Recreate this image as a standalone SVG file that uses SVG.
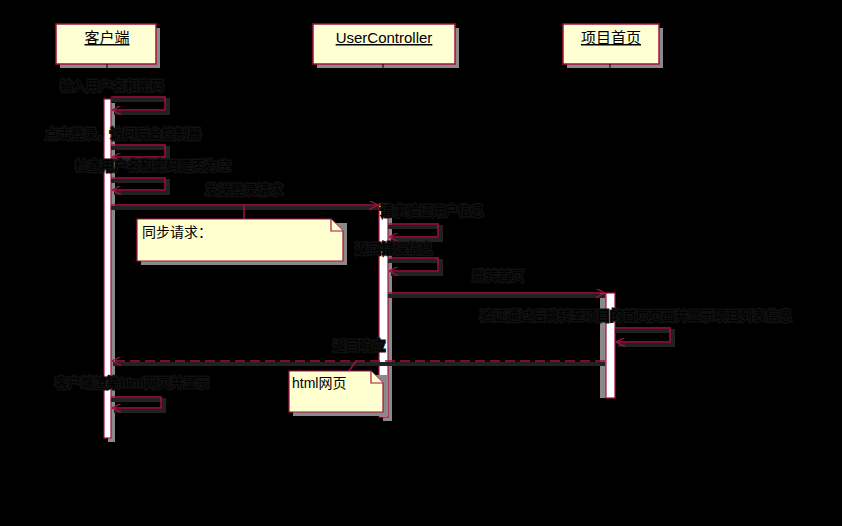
<svg xmlns="http://www.w3.org/2000/svg" width="842" height="526" viewBox="0 0 842 526">
<defs>
<marker id="arr" viewBox="0 0 10 10" refX="10" refY="5" markerWidth="9" markerHeight="9" markerUnits="userSpaceOnUse" orient="auto">
<path d="M0,0 L10,5 L0,10" fill="none" stroke="#a5123f" stroke-width="1.4"/>
</marker>
<style>
.hdr{fill:#ffffd4;stroke:#a5123f;stroke-width:1.5}
.shd{fill:#8a8a8a}
.shl{fill:none;stroke:#222;stroke-width:4}
.bar{fill:#ffffff;stroke:#a5123f;stroke-width:1.2}
.msg{fill:none;stroke:#a5123f;stroke-width:1.5}
.ret{fill:none;stroke:#a5123f;stroke-width:1.5;stroke-dasharray:10 5}
.life{fill:none;stroke:#000;stroke-width:1;stroke-dasharray:6 4}
.note{fill:#ffffd0;stroke:#a5123f;stroke-width:1.2}
.ht{font-family:"Liberation Sans","Noto Sans CJK SC",sans-serif;font-size:15px;fill:#000;text-anchor:middle;text-decoration:underline}
.nt{font-family:"Liberation Sans","Noto Sans CJK SC",sans-serif;font-size:14px;fill:#000}
.lb{font-family:"Liberation Sans","Noto Sans CJK SC",sans-serif;font-size:13px;fill:#000;stroke:#101010;stroke-width:3;paint-order:stroke}
</style>
</defs>
<rect width="842" height="526" fill="#000"/>

<g id="client">
<rect class="shd" x="60" y="28" width="100" height="40"/>
<rect class="hdr" x="56" y="24" width="100" height="40"/>
<text class="ht" x="107" y="43">客户端</text>
<line class="life" x1="107" y1="64" x2="107" y2="99"/>
<rect class="shd" x="108" y="103" width="7" height="339"/>
<rect class="bar" x="104" y="99" width="7" height="339"/>
</g>

<g id="usercontroller">
<rect class="shd" x="317" y="28" width="142" height="40"/>
<rect class="hdr" x="313" y="24" width="142" height="40"/>
<text class="ht" x="384" y="43">UserController</text>
<line class="life" x1="383" y1="64" x2="383" y2="204"/>
<rect class="shd" x="383" y="208" width="9" height="213"/>
<rect class="bar" x="379" y="204" width="9" height="213"/>
</g>

<g id="homepage">
<rect class="shd" x="567" y="28" width="96" height="40"/>
<rect class="hdr" x="563" y="24" width="96" height="40"/>
<text class="ht" x="611" y="43">项目首页</text>
<line class="life" x1="610" y1="64" x2="610" y2="293"/>
<rect class="shd" x="600" y="293" width="8" height="105"/>
<rect class="bar" x="606" y="293" width="9" height="105"/>
</g>

<g id="connectors">
<path class="shl" d="M111,100 H168 V113 H114"/>
<path class="msg" d="M111,97 H165 V110 H112" marker-end="url(#arr)"/>
<path class="shl" d="M111,148 H168 V160 H114"/>
<path class="msg" d="M111,145 H165 V157 H112" marker-end="url(#arr)"/>
<path class="shl" d="M111,181 H168 V193 H114"/>
<path class="msg" d="M111,178 H165 V190 H112" marker-end="url(#arr)"/>
<line class="shl" x1="111" y1="208" x2="378" y2="208"/>
<line class="msg" x1="111" y1="205" x2="378" y2="205" marker-end="url(#arr)"/>
<path class="shl" d="M388,227 H441 V240 H391"/>
<path class="msg" d="M388,224 H438 V237 H389" marker-end="url(#arr)"/>
<path class="shl" d="M388,261 H441 V274 H391"/>
<path class="msg" d="M388,258 H438 V271 H389" marker-end="url(#arr)"/>
<line class="shl" x1="388" y1="296" x2="605" y2="296"/>
<line class="msg" x1="388" y1="293" x2="605" y2="293" marker-end="url(#arr)"/>
<path class="shl" d="M615,331 H673 V345 H618"/>
<path class="msg" d="M615,328 H670 V342 H616" marker-end="url(#arr)"/>
<line class="shl" x1="605" y1="364" x2="113" y2="364"/>
<line class="ret" x1="605" y1="361" x2="112" y2="361" marker-end="url(#arr)"/>
<path class="shl" d="M111,400 H164 V411 H114"/>
<path class="msg" d="M111,397 H161 V408 H112" marker-end="url(#arr)"/>
<line class="msg" x1="244" y1="205" x2="244" y2="219"/>
<line class="msg" x1="349" y1="371" x2="356" y2="361"/>
</g>

<g id="labels">
<text class="lb" x="60" y="90">输入用户名和密码</text>
<text class="lb" x="45" y="138">点击登录，访问后台控制器</text>
<text class="lb" x="75" y="170">检查用户名和密码是否为空</text>
<text class="lb" x="205" y="194">发送登录请求</text>
<text class="lb" x="380" y="215">请求验证用户信息</text>
<text class="lb" x="355" y="253">返回错误信息</text>
<text class="lb" x="472" y="280">跳转首页</text>
<text class="lb" x="480" y="320">验证通过后跳转至项目的首页页面并显示项目列表信息</text>
<text class="lb" x="333" y="350">返回响应</text>
<text class="lb" x="55" y="387">客户端渲染html网页并显示</text>
</g>

<g id="note-sync">
<rect class="shd" x="141" y="223" width="206" height="42"/>
<path class="note" d="M137,219 H331 L343,231 V261 H137 Z"/>
<path class="note" d="M331,219 V231 H343"/>
<text class="nt" x="142" y="237">同步请求：</text>
</g>

<g id="note-html">
<rect class="shd" x="293" y="375" width="94" height="41"/>
<path class="note" d="M289,371 H371 L383,383 V412 H289 Z"/>
<path class="note" d="M371,371 V383 H383"/>
<text class="nt" x="292" y="388">html网页</text>
</g>
</svg>
